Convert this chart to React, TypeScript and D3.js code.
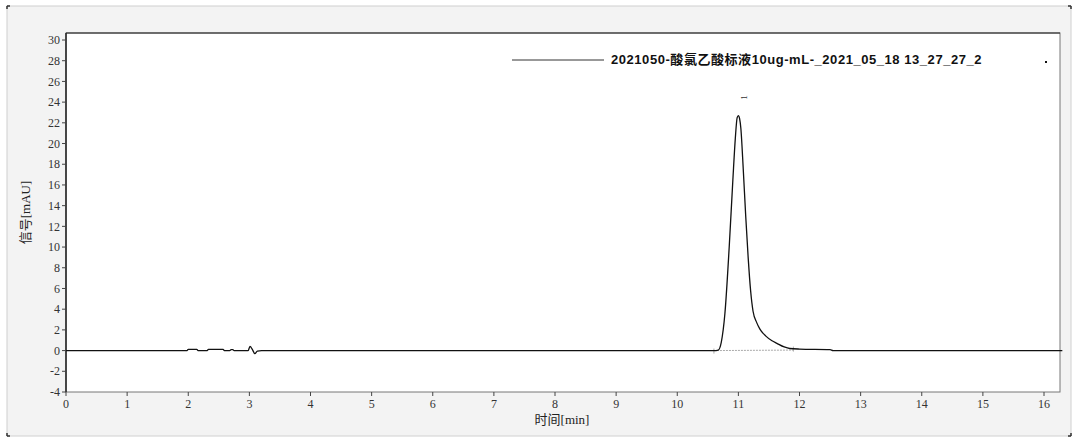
import React from 'react';
import * as d3 from 'd3';

// chromatogram trace (time in min, signal in mAU)
const times = [0, 1.98, 2.0, 2.14, 2.16, 2.31, 2.33, 2.57, 2.59, 2.68, 2.7, 2.73, 2.75, 2.98, 3.01, 3.05, 3.09, 3.13, 3.2,
  10.6, 10.67, 10.72, 10.78, 10.85, 10.91, 10.95, 10.98, 11.0, 11.02, 11.04, 11.08, 11.12, 11.16, 11.2, 11.24, 11.3, 11.35, 11.45, 11.55, 11.63, 11.75, 11.84, 12.0, 12.5, 12.55, 16.3];
const signal = [0, 0, 0.12, 0.12, 0, 0, 0.12, 0.12, 0, 0, 0.1, 0.1, 0, 0, 0.4, 0.1, -0.3, -0.05, 0,
  0, 0.05, 0.8, 3.6, 10.0, 16.5, 20.5, 22.5, 22.7, 22.4, 21.5, 17.5, 13.0, 9.0, 5.8, 3.8, 2.7, 2.1, 1.4, 0.95, 0.7, 0.35, 0.2, 0.15, 0.1, 0, 0];

const xTicks = d3.range(0, 17);
const yTicks = d3.range(-4, 31, 2);
const peakLabel = '1';
const peakTime = 11.0;
const peakHeight = 22.7;
const baseStart = 10.6;
const baseEnd = 11.9;
const legendText = '2021050-酸氯乙酸标液10ug-mL-_2021_05_18 13_27_27_2';

const width = 1080;
const height = 440;
const plot = {left: 66, top: 33, right: 1060, bottom: 392};

export default function App() {
  const x = d3.scaleLinear().domain([0, 16]).range([66, 1044]);
  const y = d3.scaleLinear().domain([-4, 30]).range([392, 40]);

  const pts = times.map((t, i) => [t, signal[i]] as [number, number]);
  const line = d3.line<[number, number]>()
    .x(d => x(d[0]))
    .y(d => y(d[1]))
    .curve(d3.curveMonotoneX);

  const tickFont = '"Liberation Serif", serif';
  const cjk = '"Noto Sans CJK SC", sans-serif';

  return (
    <svg width={width} height={height} style={{position: 'absolute', left: 0, top: 0, background: '#fff'}}>
      {/* grey panel */}
      <rect x={7} y={6} width={1064} height={430} fill="#f3f3f3" stroke="#d0d0d0" strokeWidth={1} />
      <path d="M7,6 h3 M7,6 v3" stroke="#333" strokeWidth={1.5} />
      <path d="M1071,6 h-3 M1071,6 v3" stroke="#333" strokeWidth={1.5} />
      <path d="M7,436 h3 M7,436 v-3" stroke="#333" strokeWidth={1.5} />
      <path d="M1071,436 h-3 M1071,436 v-3" stroke="#333" strokeWidth={1.5} />

      {/* plot area */}
      <rect x={plot.left} y={plot.top} width={plot.right - plot.left} height={plot.bottom - plot.top}
        fill="#fff" stroke="#777" strokeWidth={1} />
      <line x1={plot.left} x2={plot.right} y1={plot.top} y2={plot.top} stroke="#222" strokeWidth={1.2} />
      <line x1={plot.left} x2={plot.left} y1={plot.top} y2={plot.bottom} stroke="#222" strokeWidth={1.5} />

      {/* y axis */}
      {yTicks.map(v => (
        <g key={v} transform={`translate(${plot.left},${y(v)})`}>
          <line x1={-4} x2={0} stroke="#444" />
          <text x={-6} dy="0.35em" textAnchor="end" fontSize={12} fontFamily={tickFont} fill="#333">{v}</text>
        </g>
      ))}
      <text transform={`translate(30,${(plot.top + plot.bottom) / 2}) rotate(-90)`} textAnchor="middle"
        fontSize={13} fontFamily={cjk} fill="#222">信号<tspan fontFamily={tickFont}>[mAU]</tspan></text>

      {/* x axis */}
      {xTicks.map(v => (
        <g key={v} transform={`translate(${x(v)},${plot.bottom})`}>
          <line y1={0} y2={4} stroke="#444" />
          <text y={16} textAnchor="middle" fontSize={12} fontFamily={tickFont} fill="#333">{v}</text>
        </g>
      ))}
      <text x={562} y={424} textAnchor="middle" fontSize={13} fontFamily={cjk} fill="#222">
        时间<tspan fontFamily={tickFont}>[min]</tspan>
      </text>

      {/* integration baseline */}
      <line x1={x(baseStart)} x2={x(baseEnd)} y1={y(0)} y2={y(0.05)} stroke="#aaa" strokeDasharray="2,1" />
      <line x1={x(baseStart)} x2={x(baseStart)} y1={y(0) - 2} y2={y(0) + 3} stroke="#aaa" />
      <line x1={x(baseEnd)} x2={x(baseEnd)} y1={y(0) - 4} y2={y(0) + 1} stroke="#aaa" />

      {/* trace */}
      <path d={line(pts) ?? ''} fill="none" stroke="#111" strokeWidth={1.3} />

      {/* peak label */}
      <text transform={`translate(${x(peakTime) + 9},${y(peakHeight) - 18}) rotate(-90)`} textAnchor="middle"
        fontSize={9} fontFamily={tickFont} fill="#333">{peakLabel}</text>

      {/* legend */}
      <line x1={512} x2={604} y1={60} y2={60} stroke="#333" strokeWidth={1} />
      <text x={611} y={64} fontSize={13} letterSpacing={0.55} fontWeight="bold"
        fontFamily='"Liberation Sans", "Noto Sans CJK SC", sans-serif' fill="#111">
        {legendText}
      </text>
      <rect x={1045} y={61} width={2} height={2} fill="#111" />
    </svg>
  );
}
